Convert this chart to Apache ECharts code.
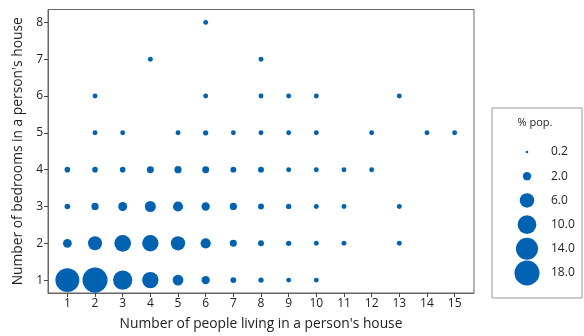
<!DOCTYPE html>
<html><head><meta charset="utf-8">
<script src="https://cdn.jsdelivr.net/npm/echarts@6/dist/echarts.min.js"></script>
<style>html,body{margin:0;padding:0;background:#fff}#c{width:584px;height:336px}</style>
</head><body><div id="c"></div>
<script>
// Data: [people, bedrooms, % population]
const people   = [1,1,1,1, 2,2,2,2,2,2, 3,3,3,3,3, 4,4,4,4,4, 5,5,5,5,5, 6,6,6,6,6,6,6, 7,7,7,7,7, 8,8,8,8,8,8,8, 9,9,9,9,9,9, 10,10,10,10,10,10, 11,11,11, 12,12, 13,13,13, 14, 15];
const bedrooms = [1,2,3,4, 1,2,3,4,5,6, 1,2,3,4,5, 1,2,3,4,7, 1,2,3,4,5, 1,2,3,4,5,6,8, 1,2,3,4,5, 1,2,3,4,5,6,7, 1,2,3,4,5,6, 1,2,3,4,5,6, 2,3,4, 4,5, 2,3,6, 5, 5];
const pct      = [16.5,2.2,0.9,0.9, 18,5.6,1.5,0.9,0.7,0.7, 10.7,8,2.3,0.9,0.7, 7.7,7.7,3.5,1.4,0.7, 3.3,5.9,2.9,1.5,0.7, 2.0,3.0,2.0,1.4,0.8,0.7,0.7, 1.0,1.4,1.5,1.0,0.7, 0.8,1.0,1.0,1.0,0.7,0.7,0.7, 0.7,0.8,0.8,0.7,0.7,0.7, 0.7,0.7,0.7,0.7,0.7,0.7, 0.7,0.7,0.7, 0.7,0.7, 0.7,0.7,0.7, 0.7, 0.7];
const xTicks = [1,2,3,4,5,6,7,8,9,10,11,12,13,14,15];
const yTicks = [1,2,3,4,5,6,7,8];
const legendValues = [0.2, 2.0, 6.0, 10.0, 14.0, 18.0];
const legendLabels = ['0.2','2.0','6.0','10.0','14.0','18.0'];

const COLOR = '#0062B0';
const FONT = 'Open Sans';
const FS = 12;
const NFS = 13.8;
const sizeOf = v => 5.9 * Math.sqrt(v);

const chart = echarts.init(document.getElementById('c'), null, {renderer:'canvas'});
const axisCommon = {
  axisLine:{show:true, lineStyle:{color:'#666', width:1}},
  axisTick:{show:true, inside:false, length:4, lineStyle:{color:'#444'}},
  splitLine:{show:false},
  axisLabel:{fontFamily:FONT, fontSize:FS, color:'#222', margin:5},
  nameTextStyle:{fontFamily:FONT, fontSize:NFS, color:'#222'}
};
chart.setOption({
  animation:false,
  grid:[
    {left:48, top:9.5, width:426, height:285.5, show:true, borderColor:'#666', borderWidth:1, backgroundColor:'transparent'},
    {left:492, top:139.9, width:90, height:145.2}
  ],
  xAxis:[
    Object.assign({}, axisCommon, {
      gridIndex:0, type:'value', min:0.3, max:15.7,
      name:"Number of people living in a person's house", nameLocation:'middle', nameGap:24,
      axisTick:Object.assign({}, axisCommon.axisTick, {customValues:xTicks}),
      axisLabel:Object.assign({}, axisCommon.axisLabel, {customValues:xTicks})
    }),
    {gridIndex:1, type:'value', min:0, max:90, show:false}
  ],
  yAxis:[
    Object.assign({}, axisCommon, {
      gridIndex:0, type:'value', min:0.65, max:8.35,
      name:"Number of bedrooms in a person's house", nameLocation:'middle', nameGap:23,
      axisTick:Object.assign({}, axisCommon.axisTick, {customValues:yTicks}),
      axisLabel:Object.assign({}, axisCommon.axisLabel, {customValues:yTicks})
    }),
    {gridIndex:1, type:'category', data:legendLabels, inverse:true,
     axisLine:{show:false}, axisTick:{show:false}, splitLine:{show:false},
     axisLabel:{inside:true, margin:59, fontFamily:FONT, fontSize:FS, color:'#222'}}
  ],
  graphic:[
    {type:'rect', shape:{x:492, y:108, width:90, height:190}, style:{fill:'none', stroke:'#999', lineWidth:1}, silent:true},
    {type:'text', x:535, y:123, style:{text:'% pop.', fontFamily:FONT, fontSize:11, fill:'#222', textAlign:'center', textVerticalAlign:'middle'}}
  ],
  series:[
    {type:'scatter', xAxisIndex:0, yAxisIndex:0,
     data: people.map((p,i)=>[p, bedrooms[i], pct[i]]),
     symbolSize: d => sizeOf(d[2]),
     itemStyle:{color:COLOR, opacity:1}},
    {type:'scatter', xAxisIndex:1, yAxisIndex:1,
     data: legendValues.map((v,i)=>[35, legendLabels[i], v]),
     symbolSize: d => sizeOf(d[2]),
     itemStyle:{color:COLOR, opacity:1}}
  ]
});
</script></body></html>
